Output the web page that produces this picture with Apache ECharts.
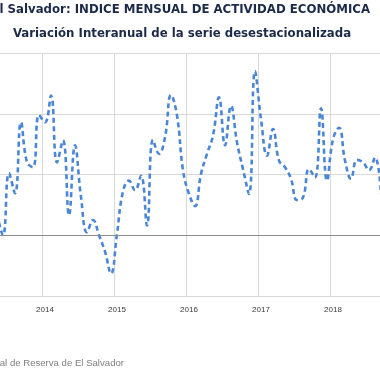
<!DOCTYPE html>
<html>
<head>
<meta charset="utf-8">
<script src="https://cdn.jsdelivr.net/npm/echarts@6/dist/echarts.min.js"></script>
<style>
html,body{margin:0;padding:0;background:#fff;overflow:hidden;width:380px;height:380px;position:relative;}
#chart{position:absolute;left:-6px;top:0;width:392px;height:380px;}
</style>
</head>
<body>
<div id="chart"></div>
<script>
// Monthly categories (May 2013 - Sep 2018)
var months = [
  '2013-05','2013-06','2013-07','2013-08','2013-09','2013-10','2013-11','2013-12',
  '2014-01','2014-02','2014-03','2014-04','2014-05','2014-06','2014-07','2014-08','2014-09','2014-10','2014-11','2014-12',
  '2015-01','2015-02','2015-03','2015-04','2015-05','2015-06','2015-07','2015-08','2015-09','2015-10','2015-11','2015-12',
  '2016-01','2016-02','2016-03','2016-04','2016-05','2016-06','2016-07','2016-08','2016-09','2016-10','2016-11','2016-12',
  '2017-01','2017-02','2017-03','2017-04','2017-05','2017-06','2017-07','2017-08','2017-09','2017-10','2017-11','2017-12',
  '2018-01','2018-02','2018-03','2018-04','2018-05','2018-06','2018-07','2018-08','2018-09'
];
// Year-on-year variation of the seasonally adjusted series
var variacion = [
  0.35, 0.00, 1.02, 0.69, 1.86, 1.20, 1.12, 1.98,
  1.86, 2.30, 1.20, 1.56, 0.33, 1.48, 0.63, 0.05, 0.25, 0.00, -0.27, -0.63,
  0.03, 0.72, 0.90, 0.74, 0.98, 0.16, 1.57, 1.34, 1.61, 2.31, 1.97, 1.07,
  0.68, 0.48, 1.01, 1.34, 1.64, 2.27, 1.48, 2.13, 1.53, 1.09, 0.68, 2.70,
  1.91, 1.31, 1.75, 1.23, 1.12, 0.93, 0.58, 0.62, 1.09, 0.95, 2.09, 0.90,
  1.58, 1.77, 1.23, 0.93, 1.24, 1.20, 1.07, 1.28, 0.68
];
var titulo = 'El Salvador: INDICE MENSUAL DE ACTIVIDAD ECONÓMICA';
var subtitulo = 'Variación Interanual de la serie desestacionalizada';
var fuente = 'Fuente: Banco Central de Reserva de El Salvador';

var isJan = function (idx, val) { return String(val).slice(5) === '01'; };
var OFF = 6; // container is shifted 6px left of the page

var chart = echarts.init(document.getElementById('chart'), null, {renderer: 'canvas'});
chart.setOption({
  animation: false,
  backgroundColor: '#ffffff',
  graphic: [
    {type: 'text', x: 370 + OFF, y: 10, style: {text: titulo, fill: '#1c2a48', font: 'bold 11.75px "DejaVu Sans"', textAlign: 'right', textVerticalAlign: 'middle'}},
    {type: 'text', x: 182 + OFF, y: 34, style: {text: subtitulo, fill: '#1c2a48', font: 'bold 11.75px "DejaVu Sans"', textAlign: 'center', textVerticalAlign: 'middle'}},
    {type: 'text', x: 124 + OFF, y: 363, style: {text: fuente, fill: '#808080', font: '9.6px "Liberation Sans"', textAlign: 'right', textVerticalAlign: 'middle'}}
  ],
  grid: {left: 0, right: 2, top: 53, bottom: 84, containLabel: false},
  xAxis: {
    type: 'category',
    data: months,
    boundaryGap: true,
    axisLine: {show: true, lineStyle: {color: '#d9d9d9', width: 1}},
    axisTick: {show: false},
    axisLabel: {
      interval: isJan,
      formatter: function (v) { return v.slice(0, 4); },
      color: '#3a3a3a', fontSize: 8, fontFamily: 'Liberation Sans', margin: 10
    },
    splitLine: {show: true, interval: isJan, lineStyle: {color: '#d9d9d9', width: 1}}
  },
  yAxis: {
    type: 'value',
    min: -1, max: 3, interval: 1,
    axisLine: {show: false},
    axisTick: {show: false},
    axisLabel: {show: false},
    splitLine: {show: true, lineStyle: {color: '#d9d9d9', width: 1}}
  },
  series: [{
    type: 'line',
    data: variacion,
    smooth: 0.45,
    symbol: 'none',
    lineStyle: {color: '#4a86d4', width: 2.6, type: [5, 3.5]},
    markLine: {
      silent: true, symbol: 'none', label: {show: false},
      lineStyle: {color: '#8c8c8c', width: 1, type: 'solid'},
      data: [{yAxis: 0}]
    }
  }]
});
</script>
</body>
</html>
